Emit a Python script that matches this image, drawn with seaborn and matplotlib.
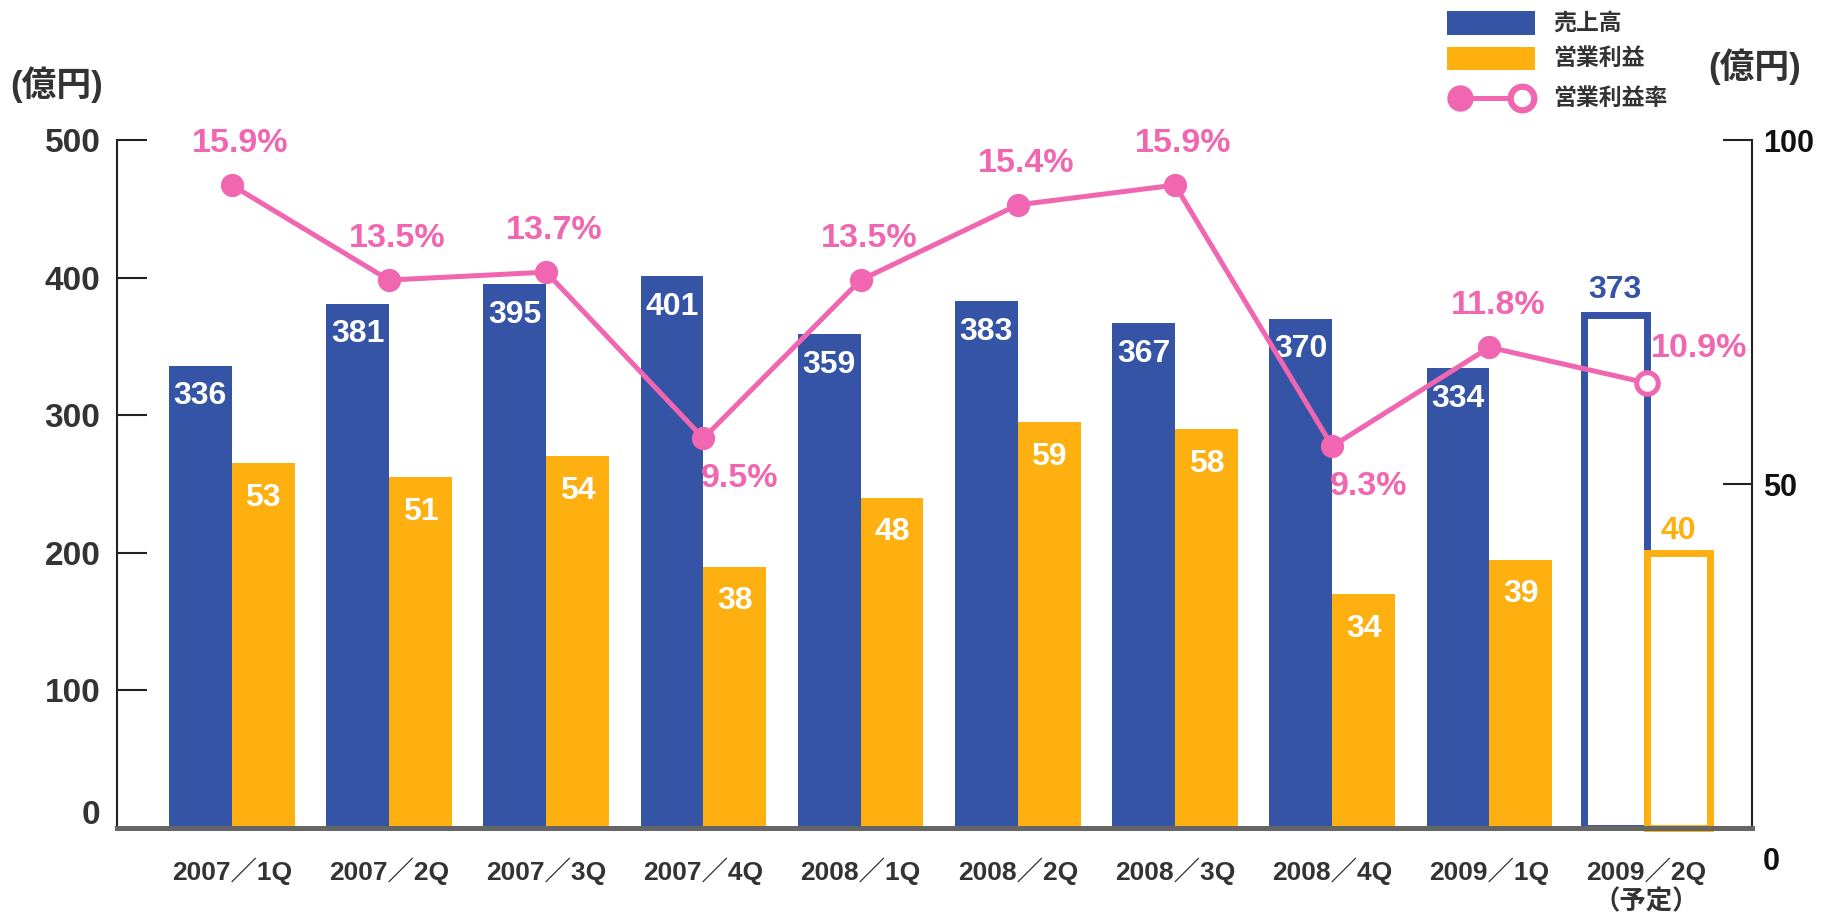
import numpy as np
import seaborn as sns
import matplotlib.pyplot as plt
import matplotlib.transforms as mtransforms
from matplotlib.patches import Rectangle
from matplotlib.lines import Line2D

# data
quarters = ["2007／1Q", "2007／2Q", "2007／3Q", "2007／4Q", "2008／1Q",
            "2008／2Q", "2008／3Q", "2008／4Q", "2009／1Q", "2009／2Q\n（予定）"]
sales = [336, 381, 395, 401, 359, 383, 367, 370, 334, 373]       # 売上高 (億円, left axis)
op_profit = [53, 51, 54, 38, 48, 59, 58, 34, 39, 40]             # 営業利益 (億円, right axis)
op_margin = [15.9, 13.5, 13.7, 9.5, 13.5, 15.4, 15.9, 9.3, 11.8, 10.9]  # 営業利益率 (%)
series_names = ["売上高", "営業利益", "営業利益率"]
left_ticks = [0, 100, 200, 300, 400, 500]
right_ticks = [0, 50, 100]
unit_label = "(億円)"

BLUE = "#3554a5"
ORANGE = "#fdb00f"
PINK = "#f066b0"
GRAY = "#333333"
W, H = 1822, 913


def fx(px):
    return px / W


def fy(py):
    return 1 - py / H


sns.set_style("white")
plt.rcParams["font.family"] = ["Liberation Sans", "Noto Sans CJK JP", "DejaVu Sans"]
plt.rcParams["font.weight"] = "bold"

fig = plt.figure(figsize=(W / 100, H / 100), dpi=100)
ax = fig.add_axes([fx(117), fy(828), fx(1752) - fx(117), fy(140) - fy(828)])
ax2 = ax.twinx()
ax3 = ax.twinx()

hue_order = series_names[:2]
sns.barplot(x=quarters, y=sales, hue=[series_names[0]] * len(quarters),
            hue_order=hue_order, palette=[BLUE, ORANGE], saturation=1,
            dodge=True, legend=False, edgecolor="none", ax=ax)
sns.barplot(x=quarters, y=op_profit, hue=[series_names[1]] * len(quarters),
            hue_order=hue_order, palette=[BLUE, ORANGE], saturation=1,
            dodge=True, legend=False, edgecolor="none", ax=ax2)

pos = np.arange(len(quarters))
sns.lineplot(x=pos, y=op_margin, color=PINK, linewidth=3.6, ax=ax3, legend=False)
sns.scatterplot(x=pos[:-1], y=op_margin[:-1], color=PINK, s=280, linewidth=0,
                ax=ax3, legend=False, zorder=4)
sns.scatterplot(x=pos[-1:], y=op_margin[-1:], color="white", edgecolor=PINK,
                s=240, linewidth=3.6, ax=ax3, legend=False, zorder=4)

# axes limits
ax.set_xlim(-0.73, 9.67)
ax.set_ylim(0, 500)
ax2.set_ylim(0, 100)
ax3.set_ylim(-0.35, 17.04)

# bar labels; forecast quarter drawn as outline
blue_bars = sorted([b for b in ax.patches if b.get_height() > 0], key=lambda b: b.get_x())
orange_bars = sorted([b for b in ax2.patches if b.get_height() > 0], key=lambda b: b.get_x())
for i, (bar, val) in enumerate(zip(blue_bars, sales)):
    cx = bar.get_x() + bar.get_width() / 2
    if i == len(sales) - 1:
        bar.set_facecolor("white")
        bar.set_edgecolor(BLUE)
        bar.set_linewidth(5)
        ax.annotate(str(val), (cx, val), xytext=(0, 7), textcoords="offset points",
                    ha="center", va="bottom", color=BLUE, fontsize=23)
    else:
        ax.annotate(str(val), (cx, val), xytext=(0, -22), textcoords="offset points",
                    ha="center", va="center", color="white", fontsize=23)
for i, (bar, val) in enumerate(zip(orange_bars, op_profit)):
    cx = bar.get_x() + bar.get_width() / 2
    if i == len(op_profit) - 1:
        bar.set_facecolor("white")
        bar.set_edgecolor(ORANGE)
        bar.set_linewidth(5)
        bar.set_clip_on(False)
        ax2.annotate(str(val), (cx, val), xytext=(0, 5), textcoords="offset points",
                     ha="center", va="bottom", color=ORANGE, fontsize=23)
    else:
        ax2.annotate(str(val), (cx, val), xytext=(0, -25), textcoords="offset points",
                     ha="center", va="center", color="white", fontsize=23)

# margin labels
for x, m in zip(pos, op_margin):
    if x == pos[-1]:
        off = (38, 25)
    elif m < 10:
        off = (26, -29)
    else:
        off = (6, 30)
    ax3.annotate(f"{m}%", (x, m), xytext=off, textcoords="offset points",
                 ha="center", va="center", color=PINK, fontsize=24.5)

# spines and ticks
for a in (ax, ax2, ax3):
    for s in a.spines.values():
        s.set_visible(False)
ax.spines["left"].set_visible(True)
ax.spines["left"].set_color("#222222")
ax.spines["left"].set_linewidth(1.5)
ax2.spines["right"].set_visible(True)
ax2.spines["right"].set_color("#222222")
ax2.spines["right"].set_linewidth(1.5)
ax3.spines["bottom"].set_visible(True)
ax3.spines["bottom"].set_color("#666666")
ax3.spines["bottom"].set_linewidth(3.6)

ax.set_yticks(left_ticks)
ax.tick_params(axis="y", left=True, direction="in", length=21.6, width=1.5,
               color="#222222", pad=12, labelsize=24, labelcolor=GRAY)
ax.tick_params(axis="x", bottom=False, length=0, pad=21, labelsize=19, labelcolor=GRAY)
ax2.set_yticks(right_ticks)
ax2.tick_params(axis="y", right=True, direction="in", length=21, width=1.5,
                color="#222222", pad=8, labelsize=22, labelcolor="#111111")
ax3.set_yticks([])
ax.set_xlabel("")
ax.set_ylabel("")
ax2.set_ylabel("")
ax3.set_ylabel("")
ax.grid(False)
ax2.grid(False)
ax3.grid(False)

fig.canvas.draw()
t0 = ax.yaxis.get_major_ticks()[0].label1
t0.set_transform(t0.get_transform() + mtransforms.ScaledTranslation(0, 0.16, fig.dpi_scale_trans))
r0 = ax2.yaxis.get_major_ticks()[0].label2
r0.set_transform(r0.get_transform() + mtransforms.ScaledTranslation(0, -0.30, fig.dpi_scale_trans))

# unit labels
fig.text(fx(57), fy(85), unit_label, ha="center", va="center", fontsize=25, color=GRAY)
fig.text(fx(1755), fy(67), unit_label, ha="center", va="center", fontsize=25, color=GRAY)

# legend
fig.add_artist(Rectangle((fx(1447), fy(35)), fx(88), 24 / H, transform=fig.transFigure,
                         facecolor=BLUE, edgecolor="none"))
fig.add_artist(Rectangle((fx(1447), fy(70)), fx(88), 23 / H, transform=fig.transFigure,
                         facecolor=ORANGE, edgecolor="none"))
fig.add_artist(Line2D([fx(1460), fx(1522)], [fy(98), fy(98)], transform=fig.transFigure,
                      color=PINK, lw=3.6))
fig.add_artist(Line2D([fx(1460)], [fy(98)], transform=fig.transFigure, marker="o",
                      ms=19, color=PINK, mew=0))
fig.add_artist(Line2D([fx(1522)], [fy(98)], transform=fig.transFigure, marker="o",
                      ms=17, mfc="white", mec=PINK, mew=4.5))
for name, py in zip(series_names, [23, 58, 98]):
    fig.text(fx(1553), fy(py), name, ha="left", va="center", fontsize=16.5, color=GRAY)

fig.savefig("out.png", dpi=100)
